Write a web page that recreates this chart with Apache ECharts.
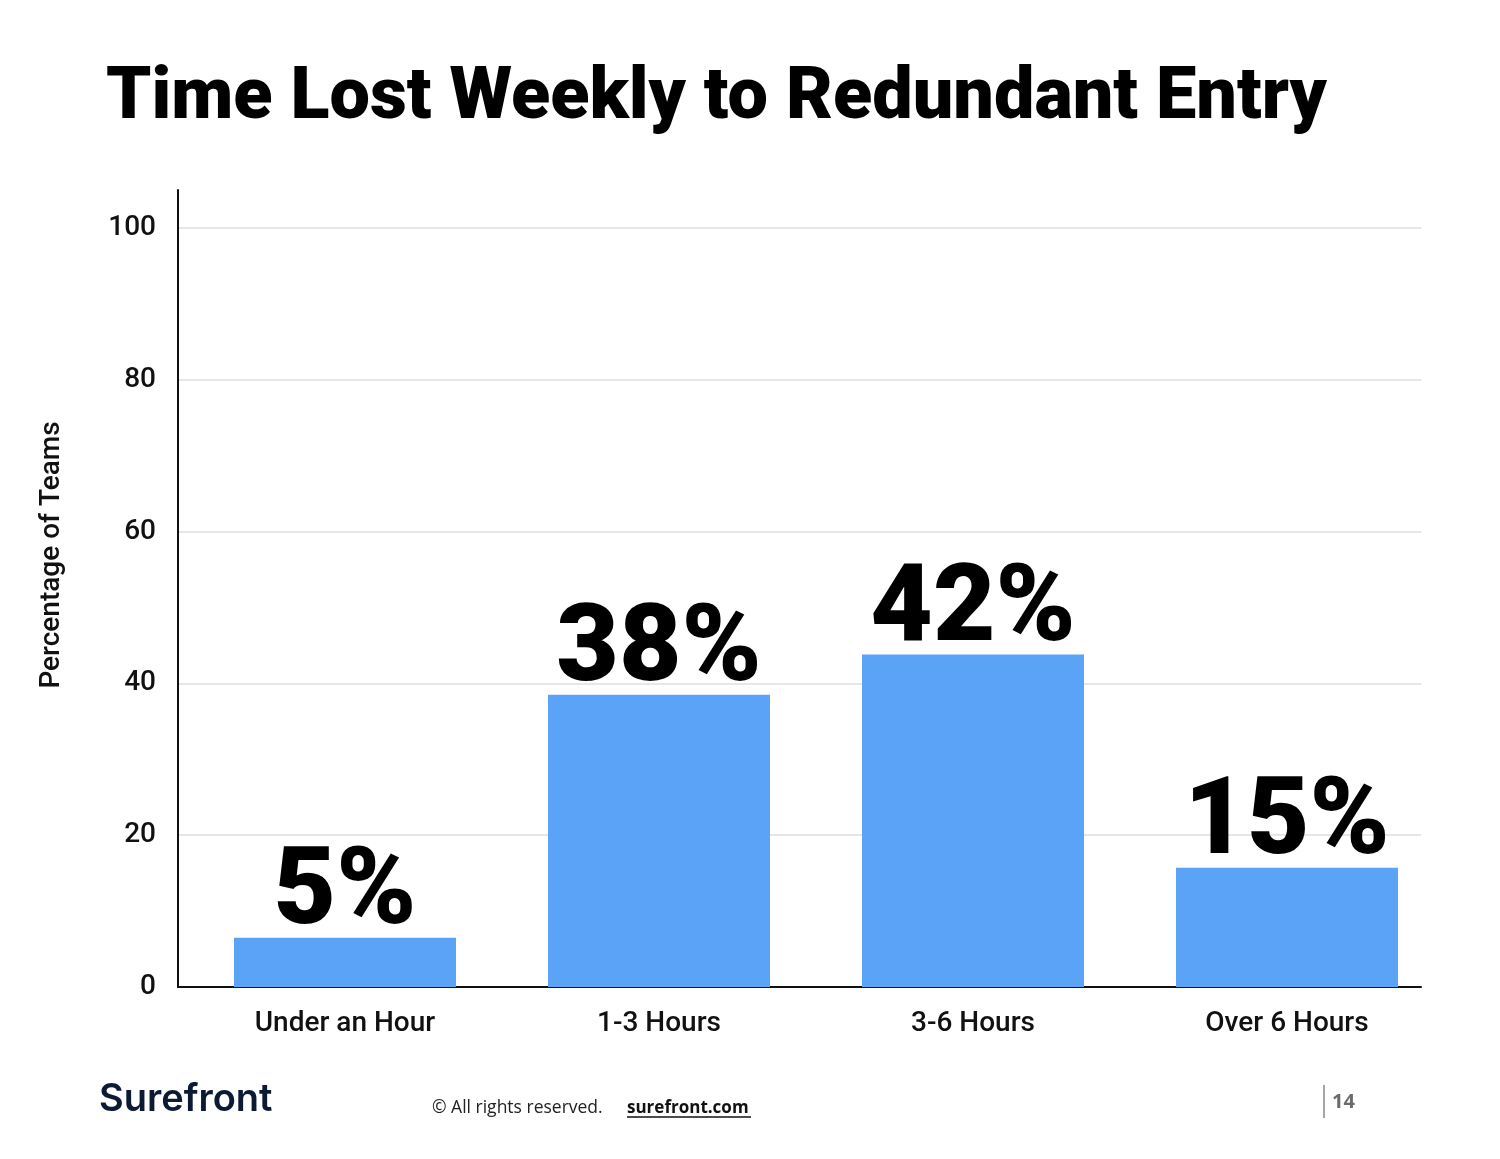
<!DOCTYPE html>
<html>
<head>
<meta charset="utf-8">
<script src="https://cdn.jsdelivr.net/npm/echarts@6/dist/echarts.min.js"></script>
<style>
html,body{margin:0;padding:0;background:#fff;}
#chart{width:1500px;height:1159px;}
</style>
</head>
<body>
<div id="chart"></div>
<script>
const titleText = 'Time Lost Weekly to Redundant Entry';
const categories = ['Under an Hour', '1-3 Hours', '3-6 Hours', 'Over 6 Hours'];
const barValues = [6.5, 38.5, 43.8, 15.7];
const valueLabels = ['5%', '38%', '42%', '15%'];
const yTicks = [0, 20, 40, 60, 80, 100];
const yAxisName = 'Percentage of Teams';

const chart = echarts.init(document.getElementById('chart'), null, {renderer: 'canvas'});
const FONT = 'Roboto';

chart.setOption({
  backgroundColor: '#ffffff',
  animation: false,
  title: {
    text: titleText,
    left: 101,
    top: 59,
    textStyle: {fontFamily: FONT, fontWeight: 900, fontSize: 72, color: '#000'}
  },
  grid: [
    {left: 178, width: 1243, top: 190, height: 797},
    {left: 188, width: 1256, top: 190, height: 797}
  ],
  xAxis: [
    {
      gridIndex: 0, type: 'value', min: 0, max: 1,
      axisLine: {show: true, onZero: false, lineStyle: {color: '#111', width: 2}},
      axisTick: {show: false}, axisLabel: {show: false}, splitLine: {show: false}
    },
    {
      gridIndex: 1, type: 'category', data: categories,
      axisLine: {show: false}, axisTick: {show: false}, splitLine: {show: false},
      axisLabel: {fontFamily: FONT, fontWeight: 500, fontSize: 28, color: '#111', margin: 23}
    }
  ],
  yAxis: [
    {
      gridIndex: 0, type: 'value', min: 0, max: 105, interval: 20,
      axisLine: {show: true, lineStyle: {color: '#111', width: 2}},
      axisTick: {show: false},
      axisLabel: {
        fontFamily: FONT, fontWeight: 500, fontSize: 28, color: '#111', margin: 22,
        showMaxLabel: false, padding: [8, 0, 0, 0],
        formatter: function (v) { return yTicks.indexOf(v) >= 0 ? String(v) : ''; }
      },
      splitLine: {show: true, showMaxLine: false, lineStyle: {color: '#e6e6e6', width: 2}}
    },
    {
      gridIndex: 1, type: 'value', min: 0, max: 105, interval: 20,
      axisLine: {show: false}, axisTick: {show: false}, axisLabel: {show: false}, splitLine: {show: false}
    }
  ],
  series: [{
    type: 'bar',
    xAxisIndex: 1, yAxisIndex: 1,
    data: barValues,
    barWidth: 222,
    itemStyle: {color: '#5ba3f6'},
    label: {
      show: true, position: 'top', distance: -12,
      formatter: function (p) { return valueLabels[p.dataIndex]; },
      fontFamily: FONT, fontWeight: 900, fontSize: 108, color: '#000', lineHeight: 108
    }
  }],
  graphic: [
    {
      type: 'text', x: 52, y: 555, rotation: Math.PI / 2,
      style: {text: yAxisName, fontFamily: FONT, fontWeight: 500, fontSize: 28, fill: '#111', align: 'center', verticalAlign: 'middle'}
    },
    {
      type: 'text', x: 99, y: 1100,
      style: {text: 'Surefront', fontFamily: 'Inter', fontWeight: 600, fontSize: 38, fill: '#0d1a33', verticalAlign: 'middle', align: 'left', letterSpacing: -1.5}
    },
    {
      type: 'text', x: 432, y: 1108,
      style: {text: '\u00A9 All rights reserved.', fontFamily: 'Open Sans', fontSize: 17.5, fill: '#222', verticalAlign: 'middle', align: 'left'}
    },
    {
      type: 'text', x: 627, y: 1108,
      style: {text: 'surefront.com', fontFamily: 'Open Sans', fontWeight: 'bold', fontSize: 17, fill: '#111', verticalAlign: 'middle', align: 'left'}
    },
    {
      type: 'line', shape: {x1: 627, y1: 1117, x2: 751, y2: 1117}, style: {stroke: '#111', lineWidth: 1.5}
    },
    {
      type: 'line', shape: {x1: 1324, y1: 1085, x2: 1324, y2: 1118}, style: {stroke: '#888', lineWidth: 1.5}
    },
    {
      type: 'text', x: 1332, y: 1102,
      style: {text: '14', fontFamily: 'Open Sans', fontWeight: 'bold', fontSize: 20, fill: '#6b6b6b', verticalAlign: 'middle', align: 'left'}
    }
  ]
});
</script>
</body>
</html>
